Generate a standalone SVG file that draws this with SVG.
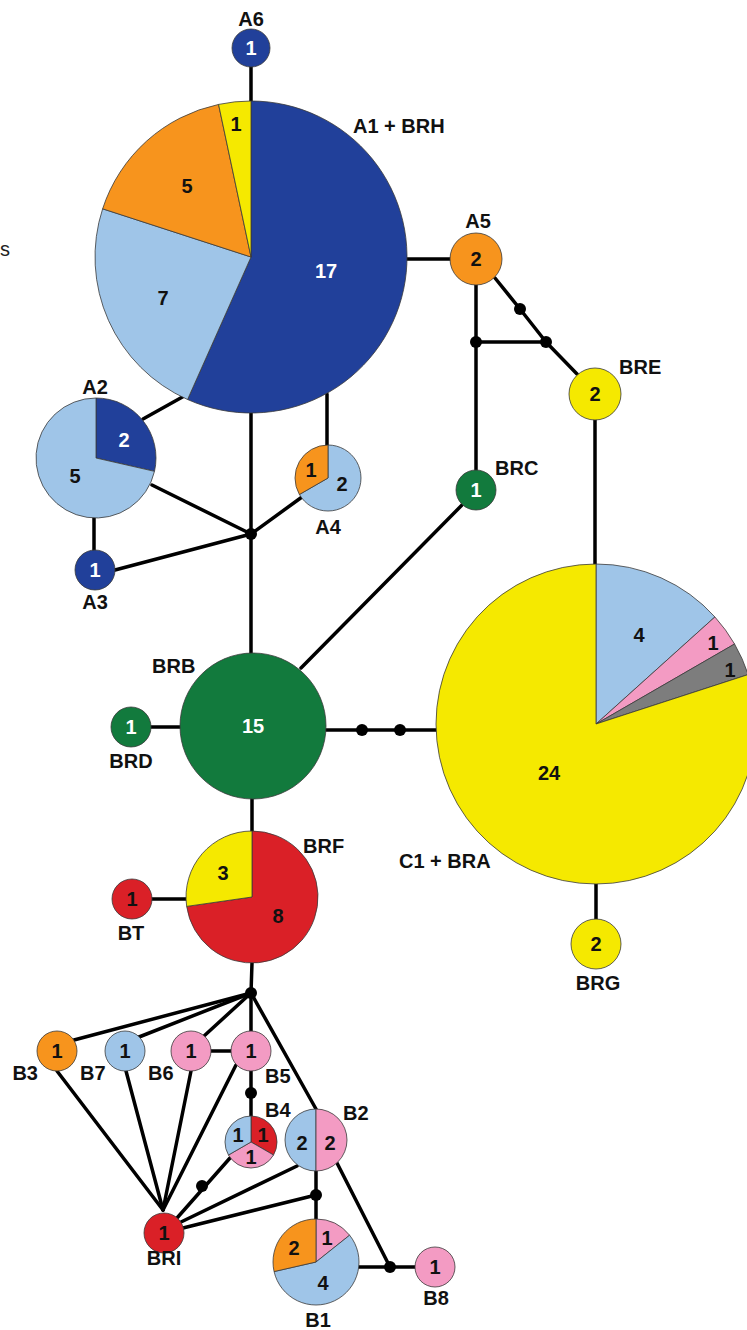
<svg xmlns="http://www.w3.org/2000/svg" width="747" height="1330" viewBox="0 0 747 1330">
<style>
.ln{stroke:#000;stroke-width:3.5;fill:none;stroke-linecap:round;stroke-linejoin:round}
.dot{fill:#000}
.n{stroke:#3a3a3a;stroke-width:0.8}
.db{fill:#21409a}.lb{fill:#9fc5e8}.or{fill:#f7941d}.ye{fill:#f5e900}.gr{fill:#127a3d}.rd{fill:#da2027}.pk{fill:#f39bc3}.gy{fill:#7d7d7d}
text{font-family:"Liberation Sans",Arial,sans-serif;font-weight:bold}
.num{font-size:20px;text-anchor:middle;fill:#111}
.w{fill:#fff}
.lab{font-size:20px;fill:#111}
.c{text-anchor:middle}
</style>
<rect width="747" height="1330" fill="#fff"/>
<text x="0" y="256" style="font-weight:normal;font-size:20px" fill="#222">s</text>
<g id="connectors">
<line class="ln" x1="251" y1="66" x2="251" y2="101"/>
<line class="ln" x1="407" y1="259" x2="450" y2="259"/>
<line class="ln" x1="186" y1="395" x2="143" y2="419"/>
<line class="ln" x1="327" y1="394" x2="327" y2="445"/>
<line class="ln" x1="251" y1="413" x2="251" y2="653"/>
<line class="ln" x1="152" y1="485" x2="251" y2="534"/>
<line class="ln" x1="94" y1="518" x2="94" y2="551"/>
<line class="ln" x1="115" y1="570" x2="251" y2="534"/>
<line class="ln" x1="302" y1="497" x2="251" y2="534"/>
<line class="ln" x1="476" y1="285" x2="476" y2="470"/>
<line class="ln" x1="476" y1="342" x2="546" y2="342"/>
<polyline class="ln" points="495,278 520,309 546,342 577,374"/>
<line class="ln" x1="595" y1="420" x2="595" y2="564"/>
<line class="ln" x1="462" y1="505" x2="301" y2="668"/>
<line class="ln" x1="151" y1="727" x2="180" y2="727"/>
<line class="ln" x1="326" y1="730" x2="437" y2="730"/>
<line class="ln" x1="596" y1="884" x2="596" y2="919"/>
<line class="ln" x1="252" y1="799" x2="252" y2="831"/>
<line class="ln" x1="151" y1="899" x2="187" y2="899"/>
<line class="ln" x1="252" y1="963" x2="251" y2="993"/>
<line class="ln" x1="251" y1="993" x2="74" y2="1040"/>
<line class="ln" x1="251" y1="993" x2="139" y2="1037"/>
<line class="ln" x1="251" y1="993" x2="204" y2="1036"/>
<line class="ln" x1="251" y1="993" x2="251" y2="1031"/>
<line class="ln" x1="251" y1="993" x2="316" y2="1109"/>
<line class="ln" x1="211" y1="1051" x2="231" y2="1051"/>
<line class="ln" x1="251" y1="1071" x2="251" y2="1116"/>
<line class="ln" x1="57" y1="1071" x2="163" y2="1210"/>
<line class="ln" x1="126" y1="1071" x2="163" y2="1210"/>
<line class="ln" x1="191" y1="1071" x2="163" y2="1210"/>
<line class="ln" x1="236" y1="1065" x2="163" y2="1210"/>
<line class="ln" x1="177" y1="1218" x2="230" y2="1158"/>
<line class="ln" x1="181" y1="1222" x2="297" y2="1166"/>
<line class="ln" x1="183" y1="1228" x2="316" y2="1195"/>
<line class="ln" x1="316" y1="1171" x2="316" y2="1219"/>
<line class="ln" x1="337" y1="1163" x2="390" y2="1267"/>
<line class="ln" x1="359" y1="1267" x2="415" y2="1267"/>
<circle class="dot" cx="251" cy="534" r="6"/>
<circle class="dot" cx="476" cy="342" r="6"/>
<circle class="dot" cx="520" cy="309" r="6"/>
<circle class="dot" cx="546" cy="342" r="6"/>
<circle class="dot" cx="362" cy="730" r="6"/>
<circle class="dot" cx="400" cy="730" r="6"/>
<circle class="dot" cx="251" cy="993" r="6"/>
<circle class="dot" cx="251" cy="1093" r="6"/>
<circle class="dot" cx="202" cy="1186" r="6"/>
<circle class="dot" cx="316" cy="1195" r="6"/>
<circle class="dot" cx="390" cy="1267" r="6"/>
</g>
<g id="A6">
<circle class="n db" cx="251" cy="48" r="19"/>
<text class="num w" x="251" y="55">1</text>
<text class="lab c" x="251" y="26">A6</text>
</g>
<g id="A1_BRH">
<path class="n db" d="M251,257 L251,101 A156,156 0 1 1 187.55,399.51 Z"/>
<path class="n lb" d="M251,257 L187.55,399.51 A156,156 0 0 1 102.63,208.80 Z"/>
<path class="n or" d="M251,257 L102.63,208.80 A156,156 0 0 1 218.57,104.41 Z"/>
<path class="n ye" d="M251,257 L218.57,104.41 A156,156 0 0 1 251,101 Z"/>
<text class="num w" x="326" y="278">17</text>
<text class="num" x="163" y="305">7</text>
<text class="num" x="187" y="193">5</text>
<text class="num" x="236" y="131">1</text>
<text class="lab" x="353" y="133">A1 + BRH</text>
</g>
<g id="A5">
<circle class="n or" cx="476" cy="259" r="26"/>
<text class="num" x="476" y="266">2</text>
<text class="lab c" x="478" y="228">A5</text>
</g>
<g id="BRE">
<circle class="n ye" cx="595" cy="394" r="26"/>
<text class="num" x="595" y="401">2</text>
<text class="lab" x="619" y="374">BRE</text>
</g>
<g id="A2">
<path class="n db" d="M96,458 L96,398 A60,60 0 0 1 154.49,471.35 Z"/>
<path class="n lb" d="M96,458 L154.49,471.35 A60,60 0 1 1 96,398 Z"/>
<text class="num w" x="124" y="447">2</text>
<text class="num" x="75" y="483">5</text>
<text class="lab c" x="95" y="394">A2</text>
</g>
<g id="A4">
<path class="n lb" d="M328,478 L328,445 A33,33 0 1 1 299.42,494.5 Z"/>
<path class="n or" d="M328,478 L299.42,494.5 A33,33 0 0 1 328,445 Z"/>
<text class="num" x="311" y="477">1</text>
<text class="num" x="342" y="491">2</text>
<text class="lab c" x="328" y="534">A4</text>
</g>
<g id="A3">
<circle class="n db" cx="95" cy="570" r="20"/>
<text class="num w" x="95" y="577">1</text>
<text class="lab c" x="95" y="609">A3</text>
</g>
<g id="BRC">
<circle class="n gr" cx="476" cy="490" r="20"/>
<text class="num w" x="476" y="497">1</text>
<text class="lab" x="495" y="475">BRC</text>
</g>
<g id="BRB">
<circle class="n gr" cx="253" cy="726" r="73"/>
<text class="num w" x="253" y="733">15</text>
<text class="lab" x="152" y="673">BRB</text>
</g>
<g id="BRD">
<circle class="n gr" cx="131" cy="727" r="20"/>
<text class="num w" x="131" y="734">1</text>
<text class="lab c" x="131" y="768">BRD</text>
</g>
<g id="C1_BRA">
<path class="n lb" d="M596,724 L596,564 A160,160 0 0 1 714.90,616.94 Z"/>
<path class="n pk" d="M596,724 L714.90,616.94 A160,160 0 0 1 734.56,644 Z"/>
<path class="n gy" d="M596,724 L734.56,644 A160,160 0 0 1 748.18,674.56 Z"/>
<path class="n ye" d="M596,724 L748.18,674.56 A160,160 0 1 1 596,564 Z"/>
<text class="num" x="639" y="642">4</text>
<text class="num" x="713" y="650">1</text>
<text class="num" x="730" y="677">1</text>
<text class="num" x="549" y="780">24</text>
<text class="lab" x="399" y="868">C1 + BRA</text>
</g>
<g id="BRG">
<circle class="n ye" cx="596" cy="944" r="25"/>
<text class="num" x="596" y="951">2</text>
<text class="lab c" x="598" y="990">BRG</text>
</g>
<g id="BRF">
<path class="n rd" d="M252,897 L252,831 A66,66 0 1 1 186.67,906.39 Z"/>
<path class="n ye" d="M252,897 L186.67,906.39 A66,66 0 0 1 252,831 Z"/>
<text class="num" x="223" y="880">3</text>
<text class="num" x="278" y="923">8</text>
<text class="lab" x="303" y="853">BRF</text>
</g>
<g id="BT">
<circle class="n rd" cx="132" cy="899" r="20"/>
<text class="num" x="132" y="906">1</text>
<text class="lab c" x="131" y="940">BT</text>
</g>
<g id="B3">
<circle class="n or" cx="57" cy="1051" r="20"/>
<text class="num" x="57" y="1058">1</text>
<text class="lab" x="38" y="1080" text-anchor="end">B3</text>
</g>
<g id="B7">
<circle class="n lb" cx="125" cy="1051" r="20"/>
<text class="num" x="125" y="1058">1</text>
<text class="lab" x="80" y="1080">B7</text>
</g>
<g id="B6">
<circle class="n pk" cx="191" cy="1051" r="20"/>
<text class="num" x="191" y="1058">1</text>
<text class="lab" x="148" y="1080">B6</text>
</g>
<g id="B5">
<circle class="n pk" cx="251" cy="1051" r="20"/>
<text class="num" x="251" y="1058">1</text>
<text class="lab" x="265" y="1083">B5</text>
</g>
<g id="B4">
<path class="n rd" d="M251,1142 L251,1116 A26,26 0 0 1 273.52,1155 Z"/>
<path class="n pk" d="M251,1142 L273.52,1155 A26,26 0 0 1 228.48,1155 Z"/>
<path class="n lb" d="M251,1142 L228.48,1155 A26,26 0 0 1 251,1116 Z"/>
<text class="num" x="238" y="1142">1</text>
<text class="num" x="263" y="1142">1</text>
<text class="num" x="251" y="1164">1</text>
<text class="lab" x="265" y="1117">B4</text>
</g>
<g id="B2">
<path class="n lb" d="M316,1140 L316,1109 A31,31 0 0 0 316,1171 Z"/>
<path class="n pk" d="M316,1140 L316,1109 A31,31 0 0 1 316,1171 Z"/>
<text class="num" x="302" y="1150">2</text>
<text class="num" x="330" y="1150">2</text>
<text class="lab" x="343" y="1120">B2</text>
</g>
<g id="BRI">
<circle class="n rd" cx="164" cy="1233" r="20"/>
<text class="num" x="164" y="1240">1</text>
<text class="lab c" x="164" y="1265">BRI</text>
</g>
<g id="B1">
<path class="n pk" d="M316,1262 L316,1219 A43,43 0 0 1 349.62,1235.19 Z"/>
<path class="n lb" d="M316,1262 L349.62,1235.19 A43,43 0 1 1 274.08,1271.57 Z"/>
<path class="n or" d="M316,1262 L274.08,1271.57 A43,43 0 0 1 316,1219 Z"/>
<text class="num" x="294" y="1255">2</text>
<text class="num" x="327" y="1245">1</text>
<text class="num" x="323" y="1290">4</text>
<text class="lab c" x="318" y="1327">B1</text>
</g>
<g id="B8">
<circle class="n pk" cx="435" cy="1267" r="20"/>
<text class="num" x="435" y="1274">1</text>
<text class="lab c" x="436" y="1305">B8</text>
</g>
</svg>
